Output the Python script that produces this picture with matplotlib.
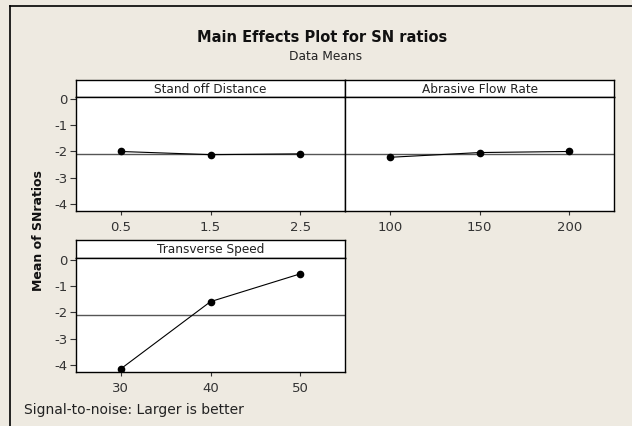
import numpy as np
import matplotlib
matplotlib.use("Agg")
import matplotlib.pyplot as plt

# data
sod_levels = [0.5, 1.5, 2.5]
sod_means = [-2.00, -2.12, -2.09]
afr_levels = [100, 150, 200]
afr_means = [-2.22, -2.04, -2.00]
ts_levels = [30, 40, 50]
ts_means = [-4.13, -1.59, -0.54]
yticks = [0, -1, -2, -3, -4]

grand_mean = np.mean(sod_means + afr_means + ts_means)

bg = '#eeeae1'
plt.rcParams['font.family'] = ['DejaVu Sans']
plt.rcParams['axes.unicode_minus'] = False

fig = plt.figure(figsize=(6.32, 4.26), dpi=100, facecolor=bg)

W, H = 632.0, 426.0


def box(x0, y0, x1, y1):
    # pixel box (top-left origin) -> figure fractions
    return [x0 / W, 1 - y1 / H, (x1 - x0) / W, (y1 - y0) / H]


def panel(px, strip_top, strip_bot, bottom, title, levels, means, xlim, left_labels):
    # strip with the factor name
    sax = fig.add_axes(box(px[0], strip_top, px[1], strip_bot))
    sax.set_facecolor('white')
    sax.set_xticks([])
    sax.set_yticks([])
    for s in sax.spines.values():
        s.set_linewidth(1.0)
    sax.text(0.5, 0.45, title, ha='center', va='center', fontsize=8.7,
             color='#222222', transform=sax.transAxes)

    ax = fig.add_axes(box(px[0], strip_bot, px[1], bottom))
    ax.set_facecolor('white')
    ax.axhline(grand_mean, color='#555555', lw=1.0, zorder=1)
    ax.plot(levels, means, color='black', lw=0.8, marker='o', ms=4.5, zorder=3)
    ax.set_xlim(*xlim)
    ax.set_ylim(-4.25, 0.06)
    ax.set_xticks(levels)
    ax.set_xticklabels([f'{v:g}' for v in levels])
    ax.tick_params(axis='x', length=3, width=0.8, labelsize=9.5, pad=4, colors='#333333')
    if left_labels:
        ax.set_yticks(yticks)
        ax.tick_params(axis='y', length=4, width=0.8, labelsize=9.5, pad=2, colors='#333333')
    else:
        ax.set_yticks([])
    for s in ax.spines.values():
        s.set_linewidth(1.0)
    return ax


panel((76, 345), 80, 97, 211, 'Stand off Distance', sod_levels, sod_means, (0, 3), True)
panel((345, 614), 80, 97, 211, 'Abrasive Flow Rate', afr_levels, afr_means, (75, 225), False)
panel((76, 345), 240, 258, 372, 'Transverse Speed', ts_levels, ts_means, (25, 55), True)

# titles and labels
fig.text(322 / W, 1 - 37 / H, 'Main Effects Plot for SN ratios', ha='center', va='center',
         fontsize=10.5, fontweight='bold', color='#111111')
fig.text(326 / W, 1 - 56 / H, 'Data Means', ha='center', va='center', fontsize=8.8, color='#222222')
fig.text(38 / W, 1 - 231 / H, 'Mean of SNratios', ha='center', va='center', rotation=90,
         fontsize=9, fontweight='bold', color='#111111')
fig.text(24 / W, 1 - 410 / H, 'Signal-to-noise: Larger is better', ha='left', va='center',
         fontsize=10, color='#222222')

# outer frame on the left and top edges
fig.add_artist(plt.Line2D([10 / W, 10 / W], [0, 1 - 6 / H], color='black', lw=1.2))
fig.add_artist(plt.Line2D([10 / W, 1], [1 - 6 / H, 1 - 6 / H], color='black', lw=1.2))

fig.savefig('out.png', dpi=100, facecolor=bg)
